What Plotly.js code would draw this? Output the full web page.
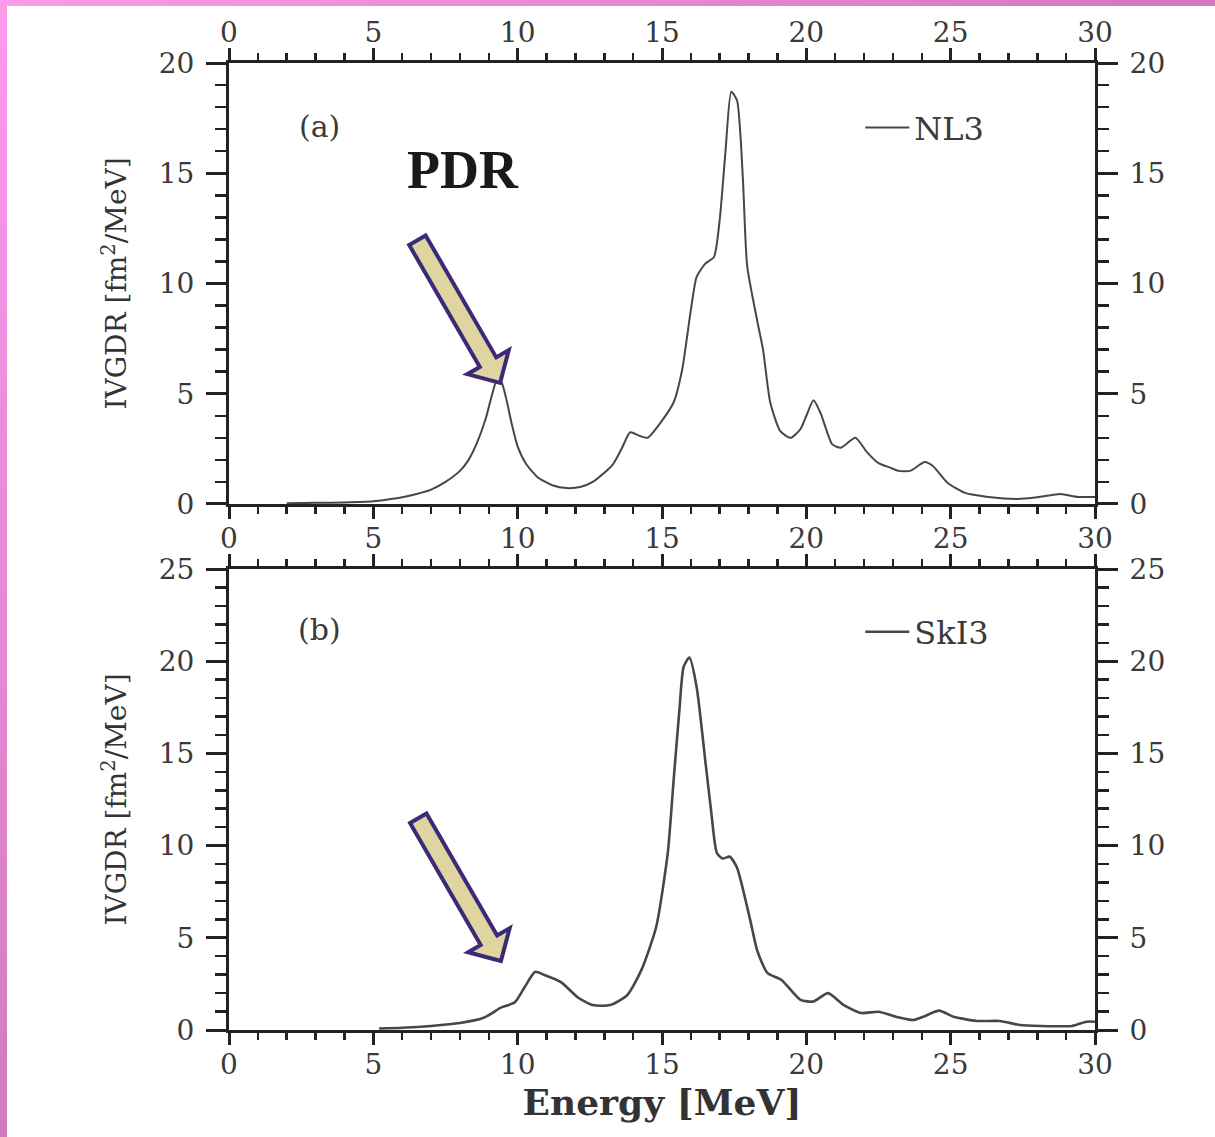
<!DOCTYPE html>
<html><head><meta charset="utf-8">
<script src="https://cdn.plot.ly/plotly-3.0.1.min.js"></script>
<style>
html,body{margin:0;padding:0;background:#fff;}
#frame{position:relative;width:1215px;height:1137px;background:linear-gradient(135deg,#fc9aec 0%,#d67cc6 45%,#a45494 100%);overflow:hidden;}
#plot{position:absolute;left:7px;top:6px;width:1208px;height:1131px;background:#fff;}
</style></head><body>
<div id="frame"><div id="plot"></div></div>
<script>
// ---- data ----
const energyNL3 = [2.0,3,4,5,5.5,6,6.5,7,7.5,8,8.3,8.6,8.9,9.1,9.3,9.45,9.6,9.8,10.0,10.3,10.7,11.2,11.7,12.2,12.6,12.9,13.3,13.6,13.9,14.2,14.5,14.9,15.4,15.7,16.0,16.2,16.5,16.8,17.0,17.2,17.4,17.6,17.8,17.95,18.3,18.5,18.75,19.1,19.45,19.8,20.0,20.25,20.5,20.9,21.2,21.7,22.1,22.5,22.9,23.2,23.6,24.1,24.4,24.9,25.5,26.3,27.3,28.0,28.8,29.4,30.0];
const ivgdrNL3  = [0.03,0.05,0.07,0.12,0.2,0.3,0.45,0.65,1.0,1.5,2.0,2.8,3.9,4.9,5.7,5.5,4.8,3.6,2.6,1.8,1.2,0.85,0.72,0.78,1.0,1.3,1.8,2.5,3.25,3.1,3.0,3.6,4.6,6.1,8.8,10.3,10.9,11.2,12.9,16.0,18.7,18.3,14.8,10.8,8.3,7.0,4.6,3.3,3.0,3.4,4.0,4.7,4.1,2.7,2.55,3.0,2.35,1.85,1.65,1.5,1.5,1.9,1.7,0.95,0.5,0.32,0.23,0.3,0.45,0.32,0.32];

const energySkI3 = [5.2,6,7,8,8.8,9.1,9.4,9.9,10.25,10.6,10.9,11.5,12.1,12.6,13.2,13.8,14.3,14.8,15.2,15.4,15.6,15.75,15.95,16.2,16.5,16.7,16.9,17.1,17.35,17.6,18.05,18.3,18.65,19.15,19.8,20.25,20.75,21.3,21.9,22.5,23.1,23.7,24.05,24.6,25.1,25.9,26.7,27.4,28.1,29.2,29.7,30];
const ivgdrSkI3  = [0.08,0.12,0.22,0.38,0.65,0.9,1.2,1.5,2.35,3.15,3.0,2.6,1.75,1.35,1.35,1.9,3.3,5.6,9.6,13.5,17.3,19.7,20.2,18.6,14.6,11.9,9.6,9.3,9.4,8.8,6.0,4.3,3.1,2.7,1.63,1.55,2.0,1.35,0.92,0.99,0.72,0.54,0.72,1.05,0.72,0.49,0.49,0.27,0.22,0.22,0.45,0.45];

const energyRange = [0,30];
const rangeA = [0,20];
const rangeB = [0,25];
const seriesNames = ['NL3','SkI3'];
const panelLabels = ['(a)','(b)'];
const pdrLabel = 'PDR';
const yTitle = 'IVGDR [fm<sup>2</sup>/MeV]';
const xTitle = '<b>Energy [MeV]</b>';

// ---- layout geometry ----
const W=1208, H=1131, M={l:222,r:120,t:57,b:107};
const pw=W-M.l-M.r, ph=H-M.t-M.b;
const domA=[0.544,1], domB=[0,0.4767];
const sx=pw/30, syA=ph*(domA[1]-domA[0])/20, syB=ph*(domB[1]-domB[0])/25;

const serif='DejaVu Serif';
const tickFont={family:serif,size:28,color:'#3a3a3a'};
function xAx(extra){return Object.assign({range:energyRange,showline:true,linecolor:'#222',linewidth:3,
  ticks:'outside',ticklen:12,tickwidth:3,tickcolor:'#222',tick0:0,dtick:5,ticklabelstandoff:-5,
  minor:{dtick:1,ticks:'outside',ticklen:7,tickwidth:2.5,tickcolor:'#222'},
  showgrid:false,zeroline:false,tickfont:tickFont,fixedrange:true},extra);}
function yAx(range,extra){return Object.assign({range:range,showline:true,linecolor:'#222',linewidth:3,
  ticks:'outside',ticklen:20,tickwidth:3,tickcolor:'#222',tick0:0,dtick:5,ticklabelstandoff:6,
  minor:{dtick:1,ticks:'outside',ticklen:11,tickwidth:2.5,tickcolor:'#222'},
  showgrid:false,zeroline:false,tickfont:tickFont,fixedrange:true},extra);}

// block arrow shape (pixel geometry converted to data units)
function arrowPath(tipE,tipV,sy){
  const u=[-0.501,-0.865], p=[0.865,-0.501];
  const L=165, hl=24, hw=24, sw=9.5;
  const pts=[];
  const add=(a,b)=>pts.push([tipE+a/sx, tipV-b/sy]);
  const H0=[u[0]*hl,u[1]*hl], T0=[u[0]*L,u[1]*L];
  add(0,0);
  add(H0[0]+p[0]*hw,H0[1]+p[1]*hw);
  add(H0[0]+p[0]*sw,H0[1]+p[1]*sw);
  add(T0[0]+p[0]*sw,T0[1]+p[1]*sw);
  add(T0[0]-p[0]*sw,T0[1]-p[1]*sw);
  add(H0[0]-p[0]*sw,H0[1]-p[1]*sw);
  add(H0[0]-p[0]*hw,H0[1]-p[1]*hw);
  return 'M'+pts.map(q=>q[0].toFixed(4)+','+q[1].toFixed(4)).join(' L')+' Z';
}

// placeholders that make the mirrored frame axes (top/right) get drawn
const frameAxes=[['x3','y'],['x','y3'],['x4','y2'],['x2','y4']];
const frameTraces=frameAxes.map(a=>({x:[null],y:[null],xaxis:a[0],yaxis:a[1],mode:'lines',showlegend:false,hoverinfo:'skip'}));

const traces=[
 {x:energyNL3,y:ivgdrNL3,xaxis:'x',yaxis:'y',mode:'lines',name:seriesNames[0],legend:'legend',
  line:{color:'#474747',width:2,shape:'spline',smoothing:0.6}},
 {x:energySkI3,y:ivgdrSkI3,xaxis:'x2',yaxis:'y2',mode:'lines',name:seriesNames[1],legend:'legend2',
  line:{color:'#474747',width:2.6,shape:'spline',smoothing:0.6}}
].concat(frameTraces);

const legendBase={xref:'paper',yref:'paper',xanchor:'left',yanchor:'middle',bgcolor:'rgba(0,0,0,0)',
  borderwidth:0,itemwidth:44,font:{family:serif,size:32,color:'#3a3a3a'},itemclick:false,itemdoubleclick:false};

const layout={
  width:W,height:H,margin:M,paper_bgcolor:'#fff',plot_bgcolor:'#fff',
  xaxis:xAx({anchor:'y',side:'bottom'}),
  xaxis3:xAx({anchor:'y',overlaying:'x',side:'top'}),
  yaxis:yAx(rangeA,{domain:domA,anchor:'x',side:'left',
    title:{text:yTitle,font:{family:serif,size:28,color:'#333'},standoff:24}}),
  yaxis3:yAx(rangeA,{anchor:'x',overlaying:'y',side:'right'}),
  xaxis2:xAx({anchor:'y2',side:'bottom',
    title:{text:xTitle,font:{family:serif,size:36,color:'#333'},standoff:8}}),
  xaxis4:xAx({anchor:'y2',overlaying:'x2',side:'top',showticklabels:false}),
  yaxis2:yAx(rangeB,{domain:domB,anchor:'x2',side:'left',
    title:{text:yTitle,font:{family:serif,size:28,color:'#333'},standoff:24}}),
  yaxis4:yAx(rangeB,{anchor:'x2',overlaying:'y2',side:'right'}),
  showlegend:true,
  legend:Object.assign({x:0.729,y:0.933},legendBase),
  legend2:Object.assign({x:0.729,y:0.4116},legendBase),
  annotations:[
    {x:3.15,y:17.1,xref:'x',yref:'y',text:panelLabels[0],showarrow:false,font:{family:serif,size:30,color:'#3a3a3a'}},
    {x:3.15,y:21.7,xref:'x2',yref:'y2',text:panelLabels[1],showarrow:false,font:{family:serif,size:30,color:'#3a3a3a'}},
    {x:8.1,y:15.15,xref:'x',yref:'y',text:'<b>'+pdrLabel+'</b>',showarrow:false,font:{family:'Liberation Serif',size:54,color:'#1a1a1a'}}
  ],
  shapes:[
    {type:'path',xref:'x',yref:'y',path:arrowPath(9.39,5.49,syA),fillcolor:'#e0d4a0',line:{color:'#3a2a78',width:4}},
    {type:'path',xref:'x2',yref:'y2',path:arrowPath(9.42,3.74,syB),fillcolor:'#e0d4a0',line:{color:'#3a2a78',width:4}}
  ]
};
Plotly.newPlot('plot',traces,layout,{displayModeBar:false,staticPlot:true});
</script>
</body></html>
